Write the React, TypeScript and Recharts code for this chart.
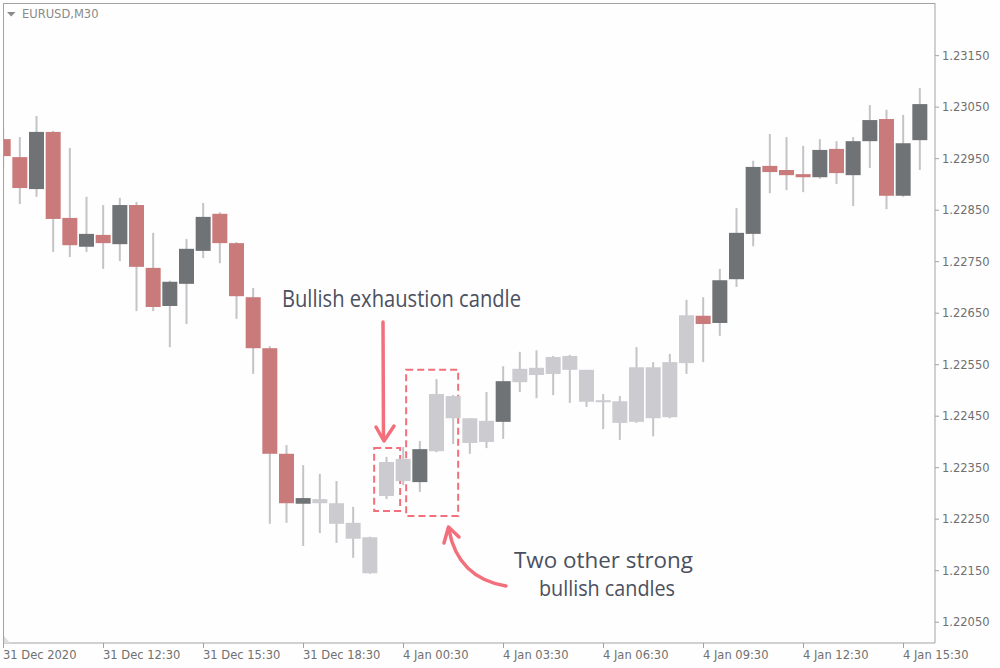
import { ComposedChart, Bar, XAxis, YAxis, ReferenceArea } from 'recharts'

// EURUSD M30, one entry per candle (index 0 = 31 Dec 09:30)
const opens = [
  1.22988, 1.22953, 1.22891, 1.23002, 1.22835, 1.22779, 1.22802, 1.22784, 1.2286, 1.22738,
  1.22664, 1.22707, 1.22771, 1.22843, 1.22786, 1.22681, 1.22582, 1.22377, 1.2228, 1.22289,
  1.22281, 1.22243, 1.22215, 1.22295, 1.22367, 1.22322, 1.22382, 1.22489, 1.22446, 1.224,
  1.22439, 1.22516, 1.2253, 1.22532, 1.22567, 1.2254, 1.22481, 1.22479, 1.22439, 1.22545,
  1.22448, 1.22553, 1.22645, 1.22631, 1.22716, 1.22804, 1.22936, 1.22928, 1.2292, 1.22914,
  1.22969, 1.22918, 1.22984, 1.23027, 1.22878, 1.22986,
]
const highs = [
  1.2301, 1.22992, 1.23033, 1.23004, 1.22971, 1.22876, 1.2286, 1.22874, 1.22866, 1.22806,
  1.22713, 1.22794, 1.22864, 1.22846, 1.22788, 1.22699, 1.22586, 1.22394, 1.22355, 1.22338,
  1.22324, 1.22274, 1.22216, 1.22371, 1.2239, 1.22402, 1.22522, 1.22491, 1.22446, 1.22497,
  1.22547, 1.22575, 1.22578, 1.22567, 1.22569, 1.2254, 1.22493, 1.22489, 1.22584, 1.22555,
  1.22571, 1.22676, 1.22681, 1.22736, 1.22854, 1.22946, 1.22998, 1.22992, 1.22975, 1.22988,
  1.22984, 1.22992, 1.23054, 1.23045, 1.23035, 1.23087,
]
const lows = [
  1.2293, 1.22862, 1.22876, 1.22769, 1.22759, 1.22769, 1.22736, 1.22751, 1.22654, 1.22654,
  1.22584, 1.22629, 1.22757, 1.22747, 1.22639, 1.22532, 1.22241, 1.22243, 1.22198, 1.22223,
  1.22204, 1.22175, 1.22144, 1.22289, 1.22316, 1.22303, 1.2238, 1.22396, 1.22377, 1.22388,
  1.22406, 1.22497, 1.22485, 1.22491, 1.22476, 1.22468, 1.22425, 1.22404, 1.22437, 1.22411,
  1.22446, 1.22532, 1.22555, 1.22606, 1.22701, 1.2278, 1.22883, 1.22889, 1.22885, 1.22911,
  1.22901, 1.22858, 1.22932, 1.22852, 1.22876, 1.22928,
]
const closes = [
  1.22955, 1.22893, 1.23002, 1.22833, 1.22782, 1.22804, 1.22786, 1.2286, 1.2274, 1.22662,
  1.22711, 1.22775, 1.22837, 1.22786, 1.22683, 1.22582, 1.22377, 1.22281, 1.22291, 1.22281,
  1.22241, 1.22212, 1.22145, 1.22361, 1.22324, 1.22386, 1.22493, 1.22446, 1.22398, 1.22441,
  1.22518, 1.22542, 1.22544, 1.22565, 1.2254, 1.22478, 1.22479, 1.22437, 1.22545, 1.22446,
  1.22555, 1.22646, 1.22629, 1.22714, 1.22806, 1.22934, 1.22924, 1.22918, 1.22914, 1.22967,
  1.22922, 1.22984, 1.23025, 1.22878, 1.2298, 1.23056,
]
// candles drawn greyed out in the picture
const fadedIdx = [19, 20, 21, 22, 23, 24, 26, 27, 28, 29, 31, 32, 33, 34, 35, 36, 37, 38, 39, 40, 41]

const xTickIdx = [0, 6, 12, 18, 24, 30, 36, 42, 48, 54]
const xTickLabels = [
  '31 Dec 2020', '31 Dec 12:30', '31 Dec 15:30', '31 Dec 18:30', '4 Jan 00:30',
  '4 Jan 03:30', '4 Jan 06:30', '4 Jan 09:30', '4 Jan 12:30', '4 Jan 15:30',
]
const yTicks = [1.2205, 1.2215, 1.2225, 1.2235, 1.2245, 1.2255, 1.2265, 1.2275, 1.2285, 1.2295, 1.2305, 1.2315]

const RED = '#c97a7a'
const DARK = '#707376'
const LIGHT = '#cccbd0'
const WICK = '#c4c4c8'
const PINK = '#f26f7c'
const INK = '#4b505e'
const AXIS = '#a3a3a3'

const rows = opens.map((o, i) => ({
  idx: i,
  open: o,
  high: highs[i],
  low: lows[i],
  close: closes[i],
  range: [lows[i], highs[i]],
  faded: fadedIdx.includes(i),
}))

function Candle(props: any) {
  const { x, y, width, height, payload } = props
  if (x == null || y == null) return null
  const { open, close, high, low, faded } = payload
  const k = height / (high - low || 1)
  const yO = y + (high - open) * k
  const yC = y + (high - close) * k
  const top = Math.min(yO, yC)
  const h = Math.max(Math.abs(yO - yC), 2)
  const cx = x + width / 2
  const fill = faded ? LIGHT : close < open ? RED : DARK
  return (
    <g>
      <line x1={cx} x2={cx} y1={y} y2={y + height} stroke={WICK} strokeWidth={2} />
      <rect x={x + 0.5} y={top} width={width - 1} height={h} fill={fill} />
    </g>
  )
}

function XTick(props: any) {
  const { x, y, payload } = props
  const label = xTickLabels[xTickIdx.indexOf(payload.value)]
  return (
    <text x={x - 0.5} y={y + 9} fill="#707070" fontSize={11.5} fontFamily="DejaVu Sans" textAnchor="start">
      {label}
    </text>
  )
}

export default function App() {
  return (
    <div style={{ position: 'relative', width: 1000, height: 668, background: '#fefefe' }}>
      <style>{'body{margin:0}'}</style>
      <ComposedChart
        width={1000}
        height={668}
        data={rows}
        margin={{ top: 3, right: 0, bottom: 0, left: 3 }}
        style={{ fontFamily: 'DejaVu Sans' }}
      >
        <XAxis
          dataKey="idx"
          type="number"
          domain={[-0.03, 55.89]}
          allowDataOverflow
          ticks={xTickIdx}
          interval={0}
          height={25}
          tickSize={5}
          tickMargin={2}
          tickLine={{ stroke: AXIS }}
          axisLine={{ stroke: AXIS }}
          tick={<XTick />}
        />
        <YAxis
          orientation="right"
          type="number"
          domain={[1.220096, 1.232523]}
          ticks={yTicks}
          interval={0}
          width={65}
          tickSize={4}
          tickMargin={3}
          tickLine={{ stroke: AXIS }}
          axisLine={{ stroke: AXIS }}
          tick={{ fill: '#707070', fontSize: 11.5, fontFamily: 'DejaVu Sans' }}
          tickFormatter={(v: number) => v.toFixed(5)}
        />
        <Bar dataKey="range" barSize={16} shape={<Candle />} isAnimationActive={false} />
        <ReferenceArea
          x1={22.24}
          x2={23.8}
          y1={1.22266}
          y2={1.22388}
          fill="none"
          fillOpacity={0}
          stroke={PINK}
          strokeWidth={2}
          strokeDasharray="7 4"
        />
        <ReferenceArea
          x1={24.16}
          x2={27.28}
          y1={1.22256}
          y2={1.2254}
          fill="none"
          fillOpacity={0}
          stroke={PINK}
          strokeWidth={2}
          strokeDasharray="7 4"
        />
      </ComposedChart>

      {/* frame, title and hand-drawn notes */}
      <svg
        width={1000}
        height={668}
        style={{ position: 'absolute', left: 0, top: 0, pointerEvents: 'none' }}
      >
        <line x1={3} x2={935} y1={3.5} y2={3.5} stroke={AXIS} />
        <line x1={3.5} x2={3.5} y1={3} y2={643} stroke={AXIS} />
        <polygon points="4,643 4,636 10,643" fill="#dcdce0" />
        <polygon points="7,12 15.5,12 11.2,16.5" fill="#8a8a8a" />
        <text x={22} y={18} fill="#8a8a8a" fontSize={11.5} fontFamily="DejaVu Sans">
          EURUSD,M30
        </text>

        <text
          x={282}
          y={307}
          fill={INK}
          fontSize={23}
          fontFamily="Open Sans"
          textLength={239}
          lengthAdjust="spacingAndGlyphs"
        >
          Bullish exhaustion candle
        </text>
        <line x1={383} y1={322} x2={383.5} y2={439} stroke={PINK} strokeWidth={3.5} strokeLinecap="round" />
        <polyline
          points="376,427 384,441 394,426"
          fill="none"
          stroke={PINK}
          strokeWidth={3.5}
          strokeLinecap="round"
          strokeLinejoin="round"
        />

        <path d="M506,586 Q458,578 449,530" fill="none" stroke={PINK} strokeWidth={3.5} strokeLinecap="round" />
        <polyline
          points="444,543 448.5,527 459,537"
          fill="none"
          stroke={PINK}
          strokeWidth={3.5}
          strokeLinecap="round"
          strokeLinejoin="round"
        />
        <text
          x={514}
          y={568}
          fill={INK}
          fontSize={21}
          fontFamily="Open Sans"
          textLength={179}
          lengthAdjust="spacingAndGlyphs"
        >
          Two other strong
        </text>
        <text
          x={539}
          y={596}
          fill={INK}
          fontSize={21}
          fontFamily="Open Sans"
          textLength={136}
          lengthAdjust="spacingAndGlyphs"
        >
          bullish candles
        </text>
      </svg>
    </div>
  )
}
